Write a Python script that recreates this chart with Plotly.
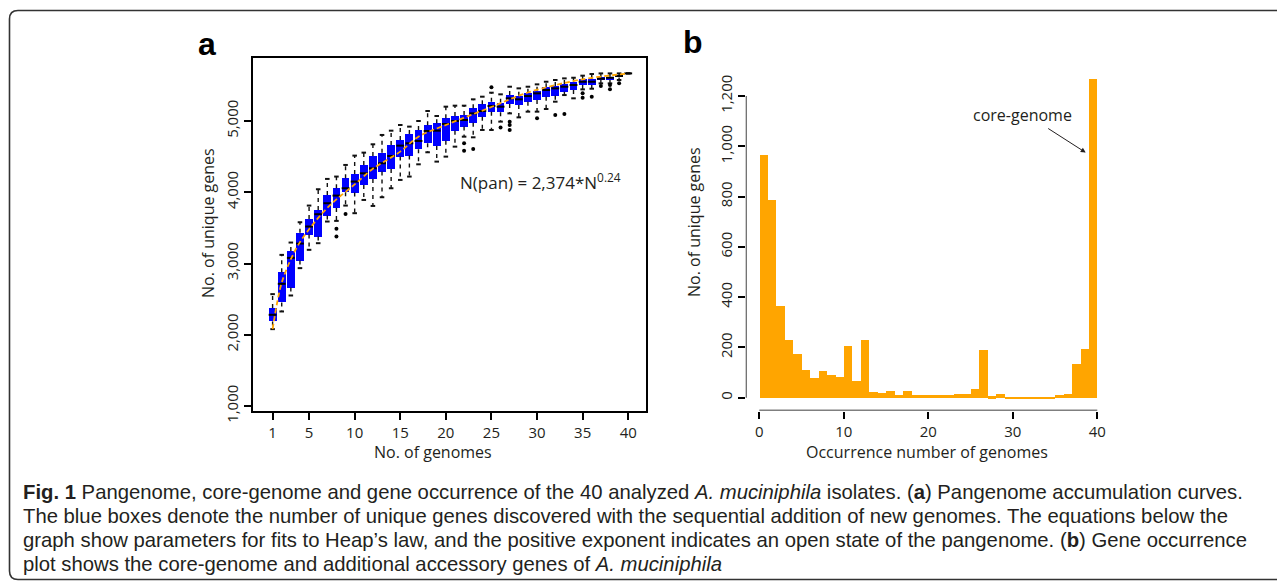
import plotly.graph_objects as go

# page body has an 8px margin, so the figure covers page pixels 8..1285 / 8..586
OFF = 8
W, H = 1285 - OFF, 586 - OFF

# ---------------- data: panel a (pangenome accumulation) ----------------
genomes = list(range(1, 41))
q1 = [2187, 2453, 2663, 3042, 3406, 3378, 3673, 3780, 4000, 3995,
      4103, 4187, 4290, 4327, 4500, 4514, 4603, 4687, 4650, 4724,
      4864, 4921, 4977, 5061, 5131, 5121, 5238, 5224, 5271, 5294,
      5341, 5355, 5411, 5435, 5505, 5505, 5575, 5575, 5612, 5668]
median = [2280, 2715, 3079, 3280, 3519, 3692, 3846, 3953, 4056, 4150,
          4266, 4336, 4407, 4509, 4654, 4687, 4720, 4860, 4864, 4958,
          5000, 5014, 5107, 5140, 5210, 5201, 5318, 5304, 5350, 5388,
          5435, 5458, 5481, 5505, 5551, 5551, 5593, 5607, 5631, 5668]
q3 = [2374, 2878, 3177, 3430, 3626, 3752, 3963, 4056, 4196, 4257,
      4383, 4509, 4556, 4664, 4734, 4818, 4874, 4939, 4967, 5037,
      5070, 5084, 5178, 5234, 5271, 5257, 5364, 5355, 5397, 5425,
      5472, 5491, 5519, 5551, 5584, 5589, 5612, 5622, 5645, 5668]
whisk_lo = [2079, 2327, 2551, 2935, 3192, 3285, 3589, 3598, 3813, 3706,
            3892, 3808, 3930, 4056, 4173, 4220, 4392, 4561, 4430, 4500,
            4640, 4780, 4771, 4874, 4874, 4991, 5107, 5051, 5131, 5131,
            5168, 5271, 5364, 5318, 5444, 5453, 5528, 5528, 5575, 5668]
whisk_hi = [2570, 3121, 3294, 3579, 3813, 4042, 4187, 4220, 4383, 4514,
            4556, 4673, 4804, 4864, 4944, 4921, 5000, 5140, 5070, 5201,
            5215, 5215, 5304, 5341, 5397, 5374, 5481, 5458, 5481, 5514,
            5551, 5575, 5598, 5607, 5636, 5659, 5668, 5668, 5668, 5668]
outlier_n = [8, 8, 9, 22, 22, 23, 25, 26, 27, 27, 27, 30, 32, 33, 35, 35, 36, 37, 38, 38, 39]
outlier_v = [3486, 3378, 3696, 4687, 4584, 4607, 5472, 4910, 4991, 4944, 4874,
             5037, 5084, 5098, 5388, 5327, 5341, 5491, 5505, 5444, 5528]
# fitted curve
fit_n = [1, 1.5, 2, 3, 4, 5, 6, 7, 8, 10, 12, 15, 17, 20, 25, 29, 35, 40]
fit_v = [2080, 2450, 2730, 3060, 3300, 3480, 3640, 3780, 3900, 4110,
         4330, 4570, 4780, 4944, 5196, 5400, 5585, 5665]
a_yticks = [1000, 2000, 3000, 4000, 5000]
a_yticktext = ["1,000", "2,000", "3,000", "4,000", "5,000"]
a_xticks = [1, 5, 10, 15, 20, 25, 30, 35, 40]

# ---------------- data: panel b (gene occurrence) ----------------
occurrence = list(range(1, 41))
gene_counts = [965, 786, 365, 233, 174, 110, 82, 106, 90, 86,
               206, 70, 233, 23, 19, 27, 11, 27, 11, 11,
               11, 11, 11, 15, 15, 38, 190, 7, 15, 4,
               4, 1, 4, 3, 4, 12, 15, 134, 197, 1270]
b_yticks = [0, 200, 400, 600, 800, 1000, 1200]
b_yticktext = ["0", "200", "400", "600", "800", "1,000", "1,200"]
b_xticks = [0, 10, 20, 30, 40]

# ---------------- helpers (page pixel -> paper) ----------------
def px(x):
    return (x - OFF) / W

def py(y):
    return 1 - (y - OFF) / H

TXT = "#231f20"
FONT = "Open Sans"

fig = go.Figure()

# boxes
fig.add_trace(go.Bar(
    x=genomes, y=[b - a for a, b in zip(q1, q3)], base=q1, width=0.86,
    marker=dict(color="#0000ff", line=dict(width=0)),
    xaxis="x", yaxis="y", hoverinfo="skip"))

# whiskers (dashed)
wx, wy = [], []
for n, a, b, lo, hi in zip(genomes, q1, q3, whisk_lo, whisk_hi):
    wx += [n, n, None, n, n, None]
    wy += [b, hi, None, a, lo, None]
fig.add_trace(go.Scatter(x=wx, y=wy, mode="lines",
                         line=dict(color="#111111", width=1.4, dash="4px,4px"),
                         xaxis="x", yaxis="y", hoverinfo="skip"))
# staples
sx, sy = [], []
for n, lo, hi in zip(genomes, whisk_lo, whisk_hi):
    sx += [n - 0.25, n + 0.25, None, n - 0.25, n + 0.25, None]
    sy += [hi, hi, None, lo, lo, None]
fig.add_trace(go.Scatter(x=sx, y=sy, mode="lines",
                         line=dict(color="#111111", width=2),
                         xaxis="x", yaxis="y", hoverinfo="skip"))
# medians
mx, my = [], []
for n, m in zip(genomes, median):
    mx += [n - 0.43, n + 0.43, None]
    my += [m, m, None]
fig.add_trace(go.Scatter(x=mx, y=my, mode="lines",
                         line=dict(color="black", width=2),
                         xaxis="x", yaxis="y", hoverinfo="skip"))
# outliers
fig.add_trace(go.Scatter(x=outlier_n, y=outlier_v, mode="markers",
                         marker=dict(color="black", size=4),
                         xaxis="x", yaxis="y", hoverinfo="skip"))
# fitted curve
fig.add_trace(go.Scatter(x=fit_n, y=fit_v, mode="lines",
                         line=dict(color="#ffa500", width=1.8, dash="5px,3px", shape="spline"),
                         xaxis="x", yaxis="y", hoverinfo="skip"))

# panel b bars (occurrence i drawn over [i-1, i])
fig.add_trace(go.Bar(
    x=[i - 0.5 for i in occurrence], y=gene_counts, width=1.0,
    marker=dict(color="#ffa500", line=dict(width=0)),
    xaxis="x2", yaxis="y2", hoverinfo="skip"))

tickfont = dict(family=FONT, size=15, color=TXT)
b_yrange = [-50.8, 1320.8]

fig.update_layout(
    width=W, height=H,
    margin=dict(l=0, r=0, t=0, b=0, autoexpand=False),
    paper_bgcolor="white", plot_bgcolor="white",
    showlegend=False, bargap=0,
    xaxis=dict(domain=[px(253), px(646)], range=[-1.15, 41.95],
               tickvals=a_xticks, ticks="outside", ticklen=7, tickwidth=1.5,
               tickcolor="black", showline=True, mirror=True, linecolor="black",
               linewidth=1.5, showgrid=False, zeroline=False, tickfont=tickfont,
               anchor="y"),
    yaxis=dict(domain=[py(411), py(58)], range=[930, 5884],
               tickvals=a_yticks, ticktext=a_yticktext, tickangle=-90,
               ticks="outside", ticklen=7, tickwidth=1.5, tickcolor="black",
               showline=True, mirror=True, linecolor="black", linewidth=1.5,
               showgrid=False, zeroline=False, tickfont=tickfont, anchor="x"),
    xaxis2=dict(domain=[px(745.8), px(1110.8)], range=[-1.6, 41.6],
                tickvals=b_xticks, ticks="outside", ticklen=7, tickwidth=1.5,
                tickcolor="black", showline=False, showgrid=False, zeroline=False,
                tickfont=tickfont, anchor="y2"),
    yaxis2=dict(domain=[py(410.5), py(65.6)], range=b_yrange,
                tickvals=b_yticks, ticktext=b_yticktext, tickangle=-90,
                ticks="outside", ticklen=7, tickwidth=1.5, tickcolor="black",
                showline=False, showgrid=False, zeroline=False,
                tickfont=tickfont, anchor="x2"),
)

shapes = [
    # panel b axis lines (R style, spanning only the tick range)
    dict(type="line", xref="x2", yref="y2", x0=b_xticks[0], x1=b_xticks[-1],
         y0=b_yrange[0], y1=b_yrange[0], line=dict(color="black", width=1.5)),
    dict(type="line", xref="x2", yref="y2", x0=-1.6, x1=-1.6,
         y0=b_yticks[0], y1=b_yticks[-1], line=dict(color="black", width=1.5)),
    # figure frame
    dict(type="path", xref="paper", yref="paper",
         path=(f"M {px(1300)},{py(10.5)} L {px(18)},{py(10.5)} "
               f"Q {px(9.5)},{py(10.5)} {px(9.5)},{py(19)} "
               f"L {px(9.5)},{py(571)} Q {px(9.5)},{py(579.5)} {px(18)},{py(579.5)} "
               f"L {px(1300)},{py(579.5)}"),
         line=dict(color="#333333", width=1.6)),
]
fig.update_layout(shapes=shapes)

ann = []
def text(x, y, s, size=16, xanchor="center", yanchor="middle", angle=0, family=FONT, color=TXT):
    ann.append(dict(x=px(x), y=py(y), xref="paper", yref="paper", text=s,
                    showarrow=False, xanchor=xanchor, yanchor=yanchor,
                    textangle=angle, font=dict(family=family, size=size, color=color)))

# panel labels
text(207, 44, "<b>a</b>", size=32, family="Liberation Sans, Arial", color="black")
text(693, 42, "<b>b</b>", size=32, family="Liberation Sans, Arial", color="black")
# axis titles
text(208, 223, "No. of unique genes", size=16, angle=-90)
text(433, 452, "No. of genomes", size=16)
text(693.5, 222.5, "No. of unique genes", size=16, angle=-90)
text(927, 452, "Occurrence number of genomes", size=16)
# equation
text(458, 181, "N(pan) = 2,374*N<sup>0.24</sup>", size=17, xanchor="left")
# core-genome label
text(1022, 115, "core-genome", size=16)
ann.append(dict(x=38.63, y=975, xref="x2", yref="y2", ax=-39, ay=-25,
                axref="pixel", ayref="pixel", text="", showarrow=True,
                arrowhead=2, arrowsize=1, arrowwidth=1, arrowcolor="#231f20"))

# caption
CAP = "Liberation Sans, Arial, sans-serif"
cap_lines = [
    "<b>Fig. 1</b> Pangenome, core-genome and gene occurrence of the 40 analyzed <i>A. muciniphila</i> isolates. (<b>a</b>) Pangenome accumulation curves.",
    "The blue boxes denote the number of unique genes discovered with the sequential addition of new genomes. The equations below the",
    "graph show parameters for fits to Heap\u2019s law, and the positive exponent indicates an open state of the pangenome. (<b>b</b>) Gene occurrence",
    "plot shows the core-genome and additional accessory genes of <i>A. muciniphila</i>",
]
for yy, line in zip([491.5, 516, 540, 564], cap_lines):
    text(21, yy, line, size=20.3, xanchor="left", family=CAP, color="#231f20")

fig.update_layout(annotations=ann)
fig.write_html("out.html")
